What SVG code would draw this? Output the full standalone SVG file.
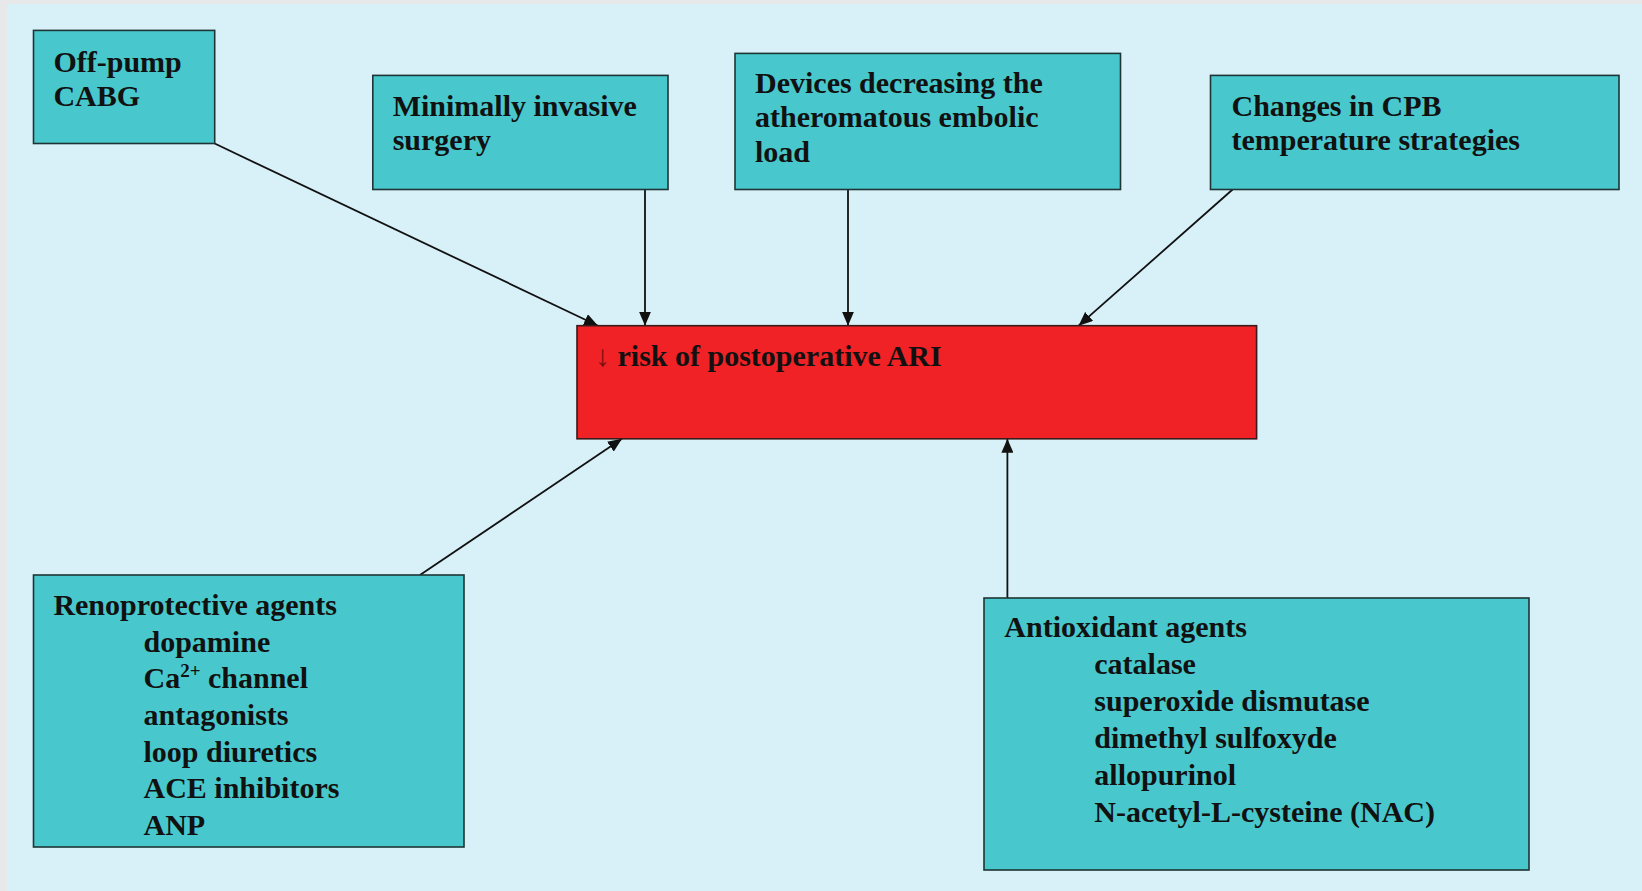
<svg xmlns="http://www.w3.org/2000/svg" width="1642" height="891" viewBox="0 0 1642 891">
<style>
.box{fill:#48c8cc;stroke:#1f3535;stroke-width:1.6}
.red{fill:#f02226;stroke:#3a1a1a;stroke-width:1.6}
text{font-family:"Liberation Serif","Times New Roman",serif;font-weight:bold;font-size:30px;fill:#111}
.con{stroke:#111;stroke-width:1.8;fill:none;marker-end:url(#ah)}
</style>
<defs>
<marker id="ah" viewBox="0 0 14 12" refX="14" refY="6" markerWidth="14" markerHeight="12" markerUnits="userSpaceOnUse" orient="auto">
<path d="M0,0 L14,6 L0,12 Z" fill="#111"/>
</marker>
</defs>
<rect x="0" y="0" width="1642" height="891" fill="#e6e8ea"/>
<rect x="7" y="4" width="1635" height="887" fill="#d8f1f8"/>
<g id="connectors">
<line class="con" x1="214.7" y1="143.5" x2="598" y2="325.7"/>
<line class="con" x1="645" y1="189.5" x2="645" y2="325.7"/>
<line class="con" x1="848" y1="189.5" x2="848" y2="325.7"/>
<line class="con" x1="1232.6" y1="189.5" x2="1078.6" y2="325.7"/>
<line class="con" x1="420" y1="575" x2="622" y2="438.8"/>
<line class="con" x1="1007.4" y1="598" x2="1007.4" y2="438.8"/>
</g>
<g id="offpump">
<rect class="box" x="33.5" y="30.4" width="181.2" height="113.1"/>
<text x="53.4" y="71.5">Off-pump</text>
<text x="53.4" y="106.2">CABG</text>
</g>
<g id="minimally">
<rect class="box" x="372.8" y="75.4" width="295.2" height="114.1"/>
<text x="392.7" y="115.5">Minimally invasive</text>
<text x="392.7" y="150.2">surgery</text>
</g>
<g id="devices">
<rect class="box" x="735" y="53.4" width="385.5" height="136.1"/>
<text x="755" y="92.5">Devices decreasing the</text>
<text x="755" y="127.2">atheromatous embolic</text>
<text x="755" y="161.8">load</text>
</g>
<g id="changes">
<rect class="box" x="1210.5" y="75.4" width="408.5" height="114.1"/>
<text x="1231.5" y="115.5">Changes in CPB</text>
<text x="1231.5" y="150.2">temperature strategies</text>
</g>
<g id="risk">
<rect class="red" x="577" y="325.7" width="679.6" height="113.1"/>
<text x="595" y="365.9"><tspan fill="#7a1010">↓</tspan> risk of postoperative ARI</text>
</g>
<g id="renoprotective">
<rect class="box" x="33.5" y="575" width="430.5" height="272"/>
<text x="53.4" y="615">Renoprotective agents</text>
<text x="143.5" y="651.6">dopamine</text>
<text x="143.5" y="688.3">Ca<tspan dy="-11" font-size="19">2+</tspan><tspan dy="11"> channel</tspan></text>
<text x="143.5" y="724.9">antagonists</text>
<text x="143.5" y="761.6">loop diuretics</text>
<text x="143.5" y="798.3">ACE inhibitors</text>
<text x="143.5" y="834.9">ANP</text>
</g>
<g id="antioxidant">
<rect class="box" x="984" y="598" width="545" height="272"/>
<text x="1004.3" y="637">Antioxidant agents</text>
<text x="1094.3" y="674">catalase</text>
<text x="1094.3" y="711.3">superoxide dismutase</text>
<text x="1094.3" y="748">dimethyl sulfoxyde</text>
<text x="1094.3" y="785.3">allopurinol</text>
<text x="1094.3" y="822.3">N-acetyl-L-cysteine (NAC)</text>
</g>
</svg>
